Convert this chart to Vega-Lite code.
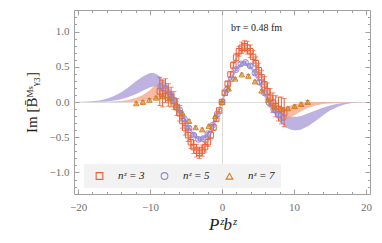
{
  "$schema": "https://vega.github.io/schema/vega-lite/v6.json",
  "width": 296,
  "height": 184,
  "autosize": {"type": "none"},
  "padding": {"left": 74, "top": 10, "right": 12, "bottom": 49},
  "config": {
    "view": {"stroke": "#a0a0a0"},
    "font": "Liberation Serif",
    "axis": {"domain": false, "labelFont": "Liberation Serif", "labelFontSize": 11, "labelColor": "#707070", "tickColor": "#a0a0a0", "gridColor": "#dcdcdc", "titleFont": "Liberation Serif", "titleFontWeight": "normal", "titleColor": "#222222"}
  },
  "datasets": {
    "bands": [
      {"b": "p", "u": -20.5, "lo": 0, "hi": 0},
      {"b": "p", "u": -19, "lo": 0, "hi": 0.004},
      {"b": "p", "u": -18, "lo": 0, "hi": 0.01},
      {"b": "p", "u": -17, "lo": 0.003, "hi": 0.02},
      {"b": "p", "u": -16, "lo": 0.008, "hi": 0.045},
      {"b": "p", "u": -15, "lo": 0.02, "hi": 0.085},
      {"b": "p", "u": -14, "lo": 0.04, "hi": 0.14},
      {"b": "p", "u": -13, "lo": 0.07, "hi": 0.21},
      {"b": "p", "u": -12, "lo": 0.11, "hi": 0.29},
      {"b": "p", "u": -11, "lo": 0.16, "hi": 0.36},
      {"b": "p", "u": -10, "lo": 0.21, "hi": 0.41},
      {"b": "p", "u": -9.5, "lo": 0.22, "hi": 0.41},
      {"b": "p", "u": -9, "lo": 0.21, "hi": 0.39},
      {"b": "p", "u": -8.5, "lo": 0.18, "hi": 0.35},
      {"b": "p", "u": -8, "lo": 0.13, "hi": 0.3},
      {"b": "p", "u": -7.5, "lo": 0.07, "hi": 0.23},
      {"b": "p", "u": -7, "lo": 0.01, "hi": 0.15},
      {"b": "p", "u": -6.5, "lo": -0.05, "hi": 0.05},
      {"b": "p", "u": -6, "lo": -0.11, "hi": -0.04},
      {"b": "p", "u": -5, "lo": -0.31, "hi": -0.25},
      {"b": "p", "u": -4, "lo": -0.49, "hi": -0.43},
      {"b": "p", "u": -3, "lo": -0.57, "hi": -0.51},
      {"b": "p", "u": -2, "lo": -0.49, "hi": -0.43},
      {"b": "p", "u": -1, "lo": -0.28, "hi": -0.22},
      {"b": "p", "u": 0, "lo": -0.03, "hi": 0.03},
      {"b": "p", "u": 1, "lo": 0.23, "hi": 0.29},
      {"b": "p", "u": 2, "lo": 0.44, "hi": 0.5},
      {"b": "p", "u": 3, "lo": 0.53, "hi": 0.59},
      {"b": "p", "u": 4, "lo": 0.47, "hi": 0.53},
      {"b": "p", "u": 5, "lo": 0.29, "hi": 0.36},
      {"b": "p", "u": 6, "lo": 0.05, "hi": 0.13},
      {"b": "p", "u": 6.5, "lo": -0.05, "hi": 0.04},
      {"b": "p", "u": 7, "lo": -0.13, "hi": -0.03},
      {"b": "p", "u": 7.5, "lo": -0.21, "hi": -0.09},
      {"b": "p", "u": 8, "lo": -0.28, "hi": -0.14},
      {"b": "p", "u": 8.5, "lo": -0.33, "hi": -0.17},
      {"b": "p", "u": 9, "lo": -0.37, "hi": -0.19},
      {"b": "p", "u": 9.5, "lo": -0.39, "hi": -0.21},
      {"b": "p", "u": 10, "lo": -0.4, "hi": -0.21},
      {"b": "p", "u": 10.5, "lo": -0.4, "hi": -0.21},
      {"b": "p", "u": 11, "lo": -0.39, "hi": -0.2},
      {"b": "p", "u": 12, "lo": -0.34, "hi": -0.16},
      {"b": "p", "u": 13, "lo": -0.27, "hi": -0.12},
      {"b": "p", "u": 14, "lo": -0.19, "hi": -0.08},
      {"b": "p", "u": 15, "lo": -0.12, "hi": -0.05},
      {"b": "p", "u": 16, "lo": -0.07, "hi": -0.025},
      {"b": "p", "u": 17, "lo": -0.035, "hi": -0.01},
      {"b": "p", "u": 18, "lo": -0.015, "hi": -0.003},
      {"b": "p", "u": 19, "lo": -0.004, "hi": 0},
      {"b": "p", "u": 20.5, "lo": 0, "hi": 0},
      {"b": "s", "u": -20.5, "lo": 0, "hi": 0},
      {"b": "s", "u": -16, "lo": 0, "hi": 0.004},
      {"b": "s", "u": -14, "lo": 0, "hi": 0.015},
      {"b": "s", "u": -13, "lo": 0, "hi": 0.03},
      {"b": "s", "u": -12, "lo": 0.003, "hi": 0.055},
      {"b": "s", "u": -11, "lo": 0.01, "hi": 0.1},
      {"b": "s", "u": -10, "lo": 0.025, "hi": 0.17},
      {"b": "s", "u": -9.5, "lo": 0.035, "hi": 0.22},
      {"b": "s", "u": -9, "lo": 0.04, "hi": 0.26},
      {"b": "s", "u": -8.5, "lo": 0.04, "hi": 0.28},
      {"b": "s", "u": -8, "lo": 0.03, "hi": 0.27},
      {"b": "s", "u": -7.5, "lo": 0, "hi": 0.22},
      {"b": "s", "u": -7, "lo": -0.05, "hi": 0.14},
      {"b": "s", "u": -6.5, "lo": -0.12, "hi": 0.04},
      {"b": "s", "u": -6, "lo": -0.21, "hi": -0.08},
      {"b": "s", "u": -5, "lo": -0.44, "hi": -0.36},
      {"b": "s", "u": -4, "lo": -0.68, "hi": -0.6},
      {"b": "s", "u": -3, "lo": -0.75, "hi": -0.67},
      {"b": "s", "u": -2, "lo": -0.6, "hi": -0.52},
      {"b": "s", "u": -1, "lo": -0.33, "hi": -0.27},
      {"b": "s", "u": 0, "lo": -0.03, "hi": 0.03},
      {"b": "s", "u": 1, "lo": 0.29, "hi": 0.35},
      {"b": "s", "u": 2, "lo": 0.6, "hi": 0.68},
      {"b": "s", "u": 3, "lo": 0.74, "hi": 0.82},
      {"b": "s", "u": 4, "lo": 0.66, "hi": 0.74},
      {"b": "s", "u": 5, "lo": 0.44, "hi": 0.52},
      {"b": "s", "u": 5.5, "lo": 0.31, "hi": 0.41},
      {"b": "s", "u": 6, "lo": 0.18, "hi": 0.3},
      {"b": "s", "u": 6.5, "lo": 0.05, "hi": 0.19},
      {"b": "s", "u": 7, "lo": -0.07, "hi": 0.09},
      {"b": "s", "u": 7.5, "lo": -0.16, "hi": 0.01},
      {"b": "s", "u": 8, "lo": -0.23, "hi": -0.05},
      {"b": "s", "u": 8.5, "lo": -0.26, "hi": -0.07},
      {"b": "s", "u": 9, "lo": -0.25, "hi": -0.07},
      {"b": "s", "u": 9.5, "lo": -0.22, "hi": -0.05},
      {"b": "s", "u": 10, "lo": -0.19, "hi": -0.035},
      {"b": "s", "u": 11, "lo": -0.13, "hi": -0.015},
      {"b": "s", "u": 12, "lo": -0.08, "hi": -0.005},
      {"b": "s", "u": 13, "lo": -0.05, "hi": 0},
      {"b": "s", "u": 14, "lo": -0.03, "hi": 0},
      {"b": "s", "u": 16, "lo": -0.01, "hi": 0},
      {"b": "s", "u": 18, "lo": -0.003, "hi": 0},
      {"b": "s", "u": 20.5, "lo": 0, "hi": 0}
    ],
    "pts": [
      {"s": "nᶻ = 3", "u": -8.64, "v": 0.15, "e": 0.2},
      {"s": "nᶻ = 3", "u": -8.25, "v": 0.12, "e": 0.19},
      {"s": "nᶻ = 3", "u": -7.85, "v": 0.16, "e": 0.17},
      {"s": "nᶻ = 3", "u": -7.46, "v": 0.1, "e": 0.16},
      {"s": "nᶻ = 3", "u": -7.07, "v": 0.07, "e": 0.14},
      {"s": "nᶻ = 3", "u": -6.68, "v": 0.02, "e": 0.13},
      {"s": "nᶻ = 3", "u": -6.28, "v": -0.07, "e": 0.12},
      {"s": "nᶻ = 3", "u": -5.89, "v": -0.16, "e": 0.11},
      {"s": "nᶻ = 3", "u": -5.5, "v": -0.27, "e": 0.1},
      {"s": "nᶻ = 3", "u": -5.11, "v": -0.37, "e": 0.1},
      {"s": "nᶻ = 3", "u": -4.71, "v": -0.47, "e": 0.09},
      {"s": "nᶻ = 3", "u": -4.32, "v": -0.57, "e": 0.09},
      {"s": "nᶻ = 3", "u": -3.93, "v": -0.64, "e": 0.09},
      {"s": "nᶻ = 3", "u": -3.53, "v": -0.69, "e": 0.09},
      {"s": "nᶻ = 3", "u": -3.14, "v": -0.72, "e": 0.08},
      {"s": "nᶻ = 3", "u": -2.75, "v": -0.69, "e": 0.08},
      {"s": "nᶻ = 3", "u": -2.36, "v": -0.64, "e": 0.07},
      {"s": "nᶻ = 3", "u": -1.96, "v": -0.57, "e": 0.06},
      {"s": "nᶻ = 3", "u": -1.57, "v": -0.47, "e": 0.05},
      {"s": "nᶻ = 3", "u": -1.18, "v": -0.36, "e": 0.04},
      {"s": "nᶻ = 3", "u": -0.79, "v": -0.24, "e": 0.03},
      {"s": "nᶻ = 3", "u": -0.39, "v": -0.12, "e": 0.02},
      {"s": "nᶻ = 3", "u": 0, "v": 0, "e": 0.01},
      {"s": "nᶻ = 3", "u": 0.39, "v": 0.13, "e": 0.02},
      {"s": "nᶻ = 3", "u": 0.79, "v": 0.26, "e": 0.03},
      {"s": "nᶻ = 3", "u": 1.18, "v": 0.39, "e": 0.04},
      {"s": "nᶻ = 3", "u": 1.57, "v": 0.52, "e": 0.05},
      {"s": "nᶻ = 3", "u": 1.96, "v": 0.63, "e": 0.06},
      {"s": "nᶻ = 3", "u": 2.36, "v": 0.72, "e": 0.07},
      {"s": "nᶻ = 3", "u": 2.75, "v": 0.77, "e": 0.08},
      {"s": "nᶻ = 3", "u": 3.14, "v": 0.79, "e": 0.08},
      {"s": "nᶻ = 3", "u": 3.53, "v": 0.77, "e": 0.09},
      {"s": "nᶻ = 3", "u": 3.93, "v": 0.72, "e": 0.09},
      {"s": "nᶻ = 3", "u": 4.32, "v": 0.64, "e": 0.09},
      {"s": "nᶻ = 3", "u": 4.71, "v": 0.55, "e": 0.09},
      {"s": "nᶻ = 3", "u": 5.11, "v": 0.45, "e": 0.1},
      {"s": "nᶻ = 3", "u": 5.5, "v": 0.35, "e": 0.1},
      {"s": "nᶻ = 3", "u": 5.89, "v": 0.25, "e": 0.11},
      {"s": "nᶻ = 3", "u": 6.28, "v": 0.15, "e": 0.12},
      {"s": "nᶻ = 3", "u": 6.68, "v": 0.06, "e": 0.13},
      {"s": "nᶻ = 3", "u": 7.07, "v": -0.01, "e": 0.14},
      {"s": "nᶻ = 3", "u": 7.46, "v": -0.06, "e": 0.15},
      {"s": "nᶻ = 3", "u": 7.85, "v": -0.1, "e": 0.17},
      {"s": "nᶻ = 3", "u": 8.25, "v": -0.12, "e": 0.19},
      {"s": "nᶻ = 3", "u": 8.64, "v": -0.15, "e": 0.2},
      {"s": "nᶻ = 5", "u": -8.5, "v": 0.22, "e": 0.04},
      {"s": "nᶻ = 5", "u": -7.85, "v": 0.19, "e": 0.035},
      {"s": "nᶻ = 5", "u": -7.19, "v": 0.11, "e": 0.03},
      {"s": "nᶻ = 5", "u": -6.54, "v": 0.01, "e": 0.03},
      {"s": "nᶻ = 5", "u": -5.89, "v": -0.11, "e": 0.025},
      {"s": "nᶻ = 5", "u": -5.23, "v": -0.24, "e": 0.025},
      {"s": "nᶻ = 5", "u": -4.58, "v": -0.37, "e": 0.02},
      {"s": "nᶻ = 5", "u": -3.92, "v": -0.47, "e": 0.02},
      {"s": "nᶻ = 5", "u": -3.27, "v": -0.53, "e": 0.02},
      {"s": "nᶻ = 5", "u": -2.62, "v": -0.52, "e": 0.02},
      {"s": "nᶻ = 5", "u": -1.96, "v": -0.45, "e": 0.015},
      {"s": "nᶻ = 5", "u": -1.31, "v": -0.33, "e": 0.015},
      {"s": "nᶻ = 5", "u": -0.65, "v": -0.17, "e": 0.01},
      {"s": "nᶻ = 5", "u": 0, "v": 0, "e": 0.01},
      {"s": "nᶻ = 5", "u": 0.65, "v": 0.17, "e": 0.01},
      {"s": "nᶻ = 5", "u": 1.31, "v": 0.33, "e": 0.015},
      {"s": "nᶻ = 5", "u": 1.96, "v": 0.46, "e": 0.015},
      {"s": "nᶻ = 5", "u": 2.62, "v": 0.54, "e": 0.02},
      {"s": "nᶻ = 5", "u": 3.27, "v": 0.56, "e": 0.02},
      {"s": "nᶻ = 5", "u": 3.92, "v": 0.51, "e": 0.02},
      {"s": "nᶻ = 5", "u": 4.58, "v": 0.41, "e": 0.02},
      {"s": "nᶻ = 5", "u": 5.23, "v": 0.28, "e": 0.025},
      {"s": "nᶻ = 5", "u": 5.89, "v": 0.13, "e": 0.025},
      {"s": "nᶻ = 5", "u": 6.54, "v": -0.01, "e": 0.03},
      {"s": "nᶻ = 5", "u": 7.19, "v": -0.11, "e": 0.03},
      {"s": "nᶻ = 5", "u": 7.85, "v": -0.18, "e": 0.035},
      {"s": "nᶻ = 5", "u": 8.5, "v": -0.22, "e": 0.04},
      {"s": "nᶻ = 7", "u": -11.91, "v": -0.02, "e": 0.02},
      {"s": "nᶻ = 7", "u": -10.99, "v": 0, "e": 0.02},
      {"s": "nᶻ = 7", "u": -10.08, "v": 0.03, "e": 0.02},
      {"s": "nᶻ = 7", "u": -9.16, "v": 0.06, "e": 0.02},
      {"s": "nᶻ = 7", "u": -8.24, "v": 0.08, "e": 0.02},
      {"s": "nᶻ = 7", "u": -7.33, "v": 0.05, "e": 0.02},
      {"s": "nᶻ = 7", "u": -6.41, "v": -0.05, "e": 0.02},
      {"s": "nᶻ = 7", "u": -5.5, "v": -0.16, "e": 0.02},
      {"s": "nᶻ = 7", "u": -4.58, "v": -0.27, "e": 0.02},
      {"s": "nᶻ = 7", "u": -3.66, "v": -0.36, "e": 0.02},
      {"s": "nᶻ = 7", "u": -2.75, "v": -0.39, "e": 0.02},
      {"s": "nᶻ = 7", "u": -1.83, "v": -0.34, "e": 0.015},
      {"s": "nᶻ = 7", "u": -0.92, "v": -0.2, "e": 0.01},
      {"s": "nᶻ = 7", "u": 0, "v": 0, "e": 0.01},
      {"s": "nᶻ = 7", "u": 0.92, "v": 0.19, "e": 0.01},
      {"s": "nᶻ = 7", "u": 1.83, "v": 0.33, "e": 0.015},
      {"s": "nᶻ = 7", "u": 2.75, "v": 0.39, "e": 0.02},
      {"s": "nᶻ = 7", "u": 3.66, "v": 0.37, "e": 0.02},
      {"s": "nᶻ = 7", "u": 4.58, "v": 0.29, "e": 0.02},
      {"s": "nᶻ = 7", "u": 5.5, "v": 0.16, "e": 0.02},
      {"s": "nᶻ = 7", "u": 6.41, "v": 0.03, "e": 0.02},
      {"s": "nᶻ = 7", "u": 7.33, "v": -0.07, "e": 0.02},
      {"s": "nᶻ = 7", "u": 8.24, "v": -0.1, "e": 0.02},
      {"s": "nᶻ = 7", "u": 9.16, "v": -0.09, "e": 0.02},
      {"s": "nᶻ = 7", "u": 10.08, "v": -0.06, "e": 0.02},
      {"s": "nᶻ = 7", "u": 10.99, "v": -0.03, "e": 0.02},
      {"s": "nᶻ = 7", "u": 11.91, "v": 0, "e": 0.02}
    ],
    "note": [{"t": "bᴛ = 0.48 fm", "u": 1.25, "v": 1.05}]
  },
  "layer": [
    {
      "data": {"name": "bands"},
      "transform": [{"filter": "datum.b === 'p'"}],
      "mark": {"type": "area", "color": "#b6aadd", "opacity": 0.9},
      "encoding": {
        "x": {"field": "u", "type": "quantitative", "scale": {"domain": [-20.56, 20.56], "nice": false, "zero": false},
          "axis": {"orient": "bottom", "values": [-20,-18,-16,-14,-12,-10,-8,-6,-4,-2,0,2,4,6,8,10,12,14,16,18,20],
            "labelExpr": "datum.value % 10 === 0 ? format(datum.value, 'd') : ''",
            "tickSize": {"condition": {"test": "datum.value % 10 === 0", "value": -5}, "value": -2.5},
            "labelPadding": 12, "labelFlush": false,
            "grid": true, "gridOpacity": {"condition": {"test": "datum.value === 0", "value": 1}, "value": 0},
            "title": "Pᶻbᶻ", "titleFontStyle": "italic", "titleFontSize": 17, "titlePadding": 4}},
        "y": {"field": "lo", "type": "quantitative", "scale": {"domain": [-1.305, 1.305], "nice": false, "zero": false},
          "axis": {"orient": "left", "values": [-1.2,-1.1,-1,-0.9,-0.8,-0.7,-0.6,-0.5,-0.4,-0.3,-0.2,-0.1,0,0.1,0.2,0.3,0.4,0.5,0.6,0.7,0.8,0.9,1,1.1,1.2],
            "labelExpr": "abs(round(datum.value*10)) % 5 === 0 ? format(datum.value, '.1f') : ''",
            "tickSize": {"condition": {"test": "abs(round(datum.value*10)) % 5 === 0", "value": -5}, "value": -2.5},
            "labelPadding": 10, "labelFlush": false,
            "grid": true, "gridOpacity": {"condition": {"test": "abs(datum.value) < 0.001", "value": 1}, "value": 0},
            "title": "Im [B̄ᴹˢᵧ₃]", "titleFontSize": 15, "titlePadding": 10}},
        "y2": {"field": "hi"}
      }
    },
    {
      "data": {"name": "bands"},
      "transform": [{"filter": "datum.b === 's'"}],
      "mark": {"type": "area", "color": "#f4a384", "opacity": 0.75},
      "encoding": {
        "x": {"field": "u", "type": "quantitative", "scale": {"domain": [-20.56, 20.56], "nice": false, "zero": false},
          "axis": {"orient": "top", "values": [-20,-18,-16,-14,-12,-10,-8,-6,-4,-2,0,2,4,6,8,10,12,14,16,18,20], "labels": false, "title": null, "grid": false,
            "tickSize": {"condition": {"test": "datum.value % 10 === 0", "value": -5}, "value": -2.5}}},
        "y": {"field": "lo", "type": "quantitative", "scale": {"domain": [-1.305, 1.305], "nice": false, "zero": false},
          "axis": {"orient": "right", "values": [-1.2,-1.1,-1,-0.9,-0.8,-0.7,-0.6,-0.5,-0.4,-0.3,-0.2,-0.1,0,0.1,0.2,0.3,0.4,0.5,0.6,0.7,0.8,0.9,1,1.1,1.2], "labels": false, "title": null, "grid": false,
            "tickSize": {"condition": {"test": "abs(round(datum.value*10)) % 5 === 0", "value": -5}, "value": -2.5}}},
        "y2": {"field": "hi"}
      }
    },
    {
      "data": {"name": "pts"},
      "transform": [{"filter": "datum.s === 'nᶻ = 3'"}],
      "mark": {"type": "errorbar", "color": "#e8603a", "ticks": {"size": 5}, "thickness": 1},
      "encoding": {
        "x": {"field": "u", "type": "quantitative", "axis": null},
        "y": {"field": "v", "type": "quantitative", "axis": null},
        "yError": {"field": "e"}
      }
    },
    {
      "data": {"name": "pts"},
      "transform": [{"filter": "datum.s === 'nᶻ = 3'"}],
      "mark": {"type": "point", "filled": false, "strokeWidth": 1, "size": 30, "opacity": 1},
      "encoding": {
        "x": {"field": "u", "type": "quantitative", "axis": null},
        "y": {"field": "v", "type": "quantitative", "axis": null},
        "color": {"field": "s", "type": "nominal", "scale": {"domain": ["nᶻ = 3", "nᶻ = 5", "nᶻ = 7"], "range": ["#e8603a", "#9486d2", "#d27c22"]},
          "legend": {"title": null, "orient": "none", "legendX": 10, "legendY": 154, "direction": "horizontal", "fillColor": "#f2f2f2", "padding": 6, "symbolOffset": 4, "labelFont": "Liberation Serif", "labelFontStyle": "italic", "labelFontSize": 11, "labelColor": "#222222", "symbolSize": 45, "symbolStrokeWidth": 1.1, "labelOffset": 13, "columnPadding": 10}},
        "shape": {"field": "s", "type": "nominal", "scale": {"domain": ["nᶻ = 3", "nᶻ = 5", "nᶻ = 7"], "range": ["square", "circle", "triangle-up"]},
          "legend": {"title": null, "orient": "none", "legendX": 10, "legendY": 154, "direction": "horizontal", "fillColor": "#f2f2f2", "padding": 6, "symbolOffset": 4, "labelFont": "Liberation Serif", "labelFontStyle": "italic", "labelFontSize": 11, "labelColor": "#222222", "symbolSize": 45, "symbolStrokeWidth": 1.1, "labelOffset": 13, "columnPadding": 10}}
      }
    },
    {
      "data": {"name": "pts"},
      "transform": [{"filter": "datum.s === 'nᶻ = 5'"}],
      "mark": {"type": "errorbar", "color": "#9486d2", "ticks": {"size": 4}, "thickness": 1},
      "encoding": {
        "x": {"field": "u", "type": "quantitative", "axis": null},
        "y": {"field": "v", "type": "quantitative", "axis": null},
        "yError": {"field": "e"}
      }
    },
    {
      "data": {"name": "pts"},
      "transform": [{"filter": "datum.s === 'nᶻ = 5'"}],
      "mark": {"type": "point", "filled": false, "strokeWidth": 1, "size": 34, "opacity": 1},
      "encoding": {
        "x": {"field": "u", "type": "quantitative", "axis": null},
        "y": {"field": "v", "type": "quantitative", "axis": null},
        "color": {"field": "s", "type": "nominal", "scale": {"domain": ["nᶻ = 3", "nᶻ = 5", "nᶻ = 7"], "range": ["#e8603a", "#9486d2", "#d27c22"]}},
        "shape": {"field": "s", "type": "nominal", "scale": {"domain": ["nᶻ = 3", "nᶻ = 5", "nᶻ = 7"], "range": ["square", "circle", "triangle-up"]}}
      }
    },
    {
      "data": {"name": "pts"},
      "transform": [{"filter": "datum.s === 'nᶻ = 7'"}],
      "mark": {"type": "errorbar", "color": "#d27c22", "ticks": {"size": 4}, "thickness": 1},
      "encoding": {
        "x": {"field": "u", "type": "quantitative", "axis": null},
        "y": {"field": "v", "type": "quantitative", "axis": null},
        "yError": {"field": "e"}
      }
    },
    {
      "data": {"name": "pts"},
      "transform": [{"filter": "datum.s === 'nᶻ = 7'"}],
      "mark": {"type": "point", "filled": false, "strokeWidth": 1, "size": 30, "opacity": 1},
      "encoding": {
        "x": {"field": "u", "type": "quantitative", "axis": null},
        "y": {"field": "v", "type": "quantitative", "axis": null},
        "color": {"field": "s", "type": "nominal", "scale": {"domain": ["nᶻ = 3", "nᶻ = 5", "nᶻ = 7"], "range": ["#e8603a", "#9486d2", "#d27c22"]}},
        "shape": {"field": "s", "type": "nominal", "scale": {"domain": ["nᶻ = 3", "nᶻ = 5", "nᶻ = 7"], "range": ["square", "circle", "triangle-up"]}}
      }
    },
    {
      "data": {"name": "note"},
      "mark": {"type": "text", "align": "left", "baseline": "middle", "font": "Liberation Serif", "fontSize": 10, "color": "#222222"},
      "encoding": {
        "x": {"field": "u", "type": "quantitative", "axis": null},
        "y": {"field": "v", "type": "quantitative", "axis": null},
        "text": {"field": "t"}
      }
    }
  ],
  "resolve": {"axis": {"x": "independent", "y": "independent"}}
}
